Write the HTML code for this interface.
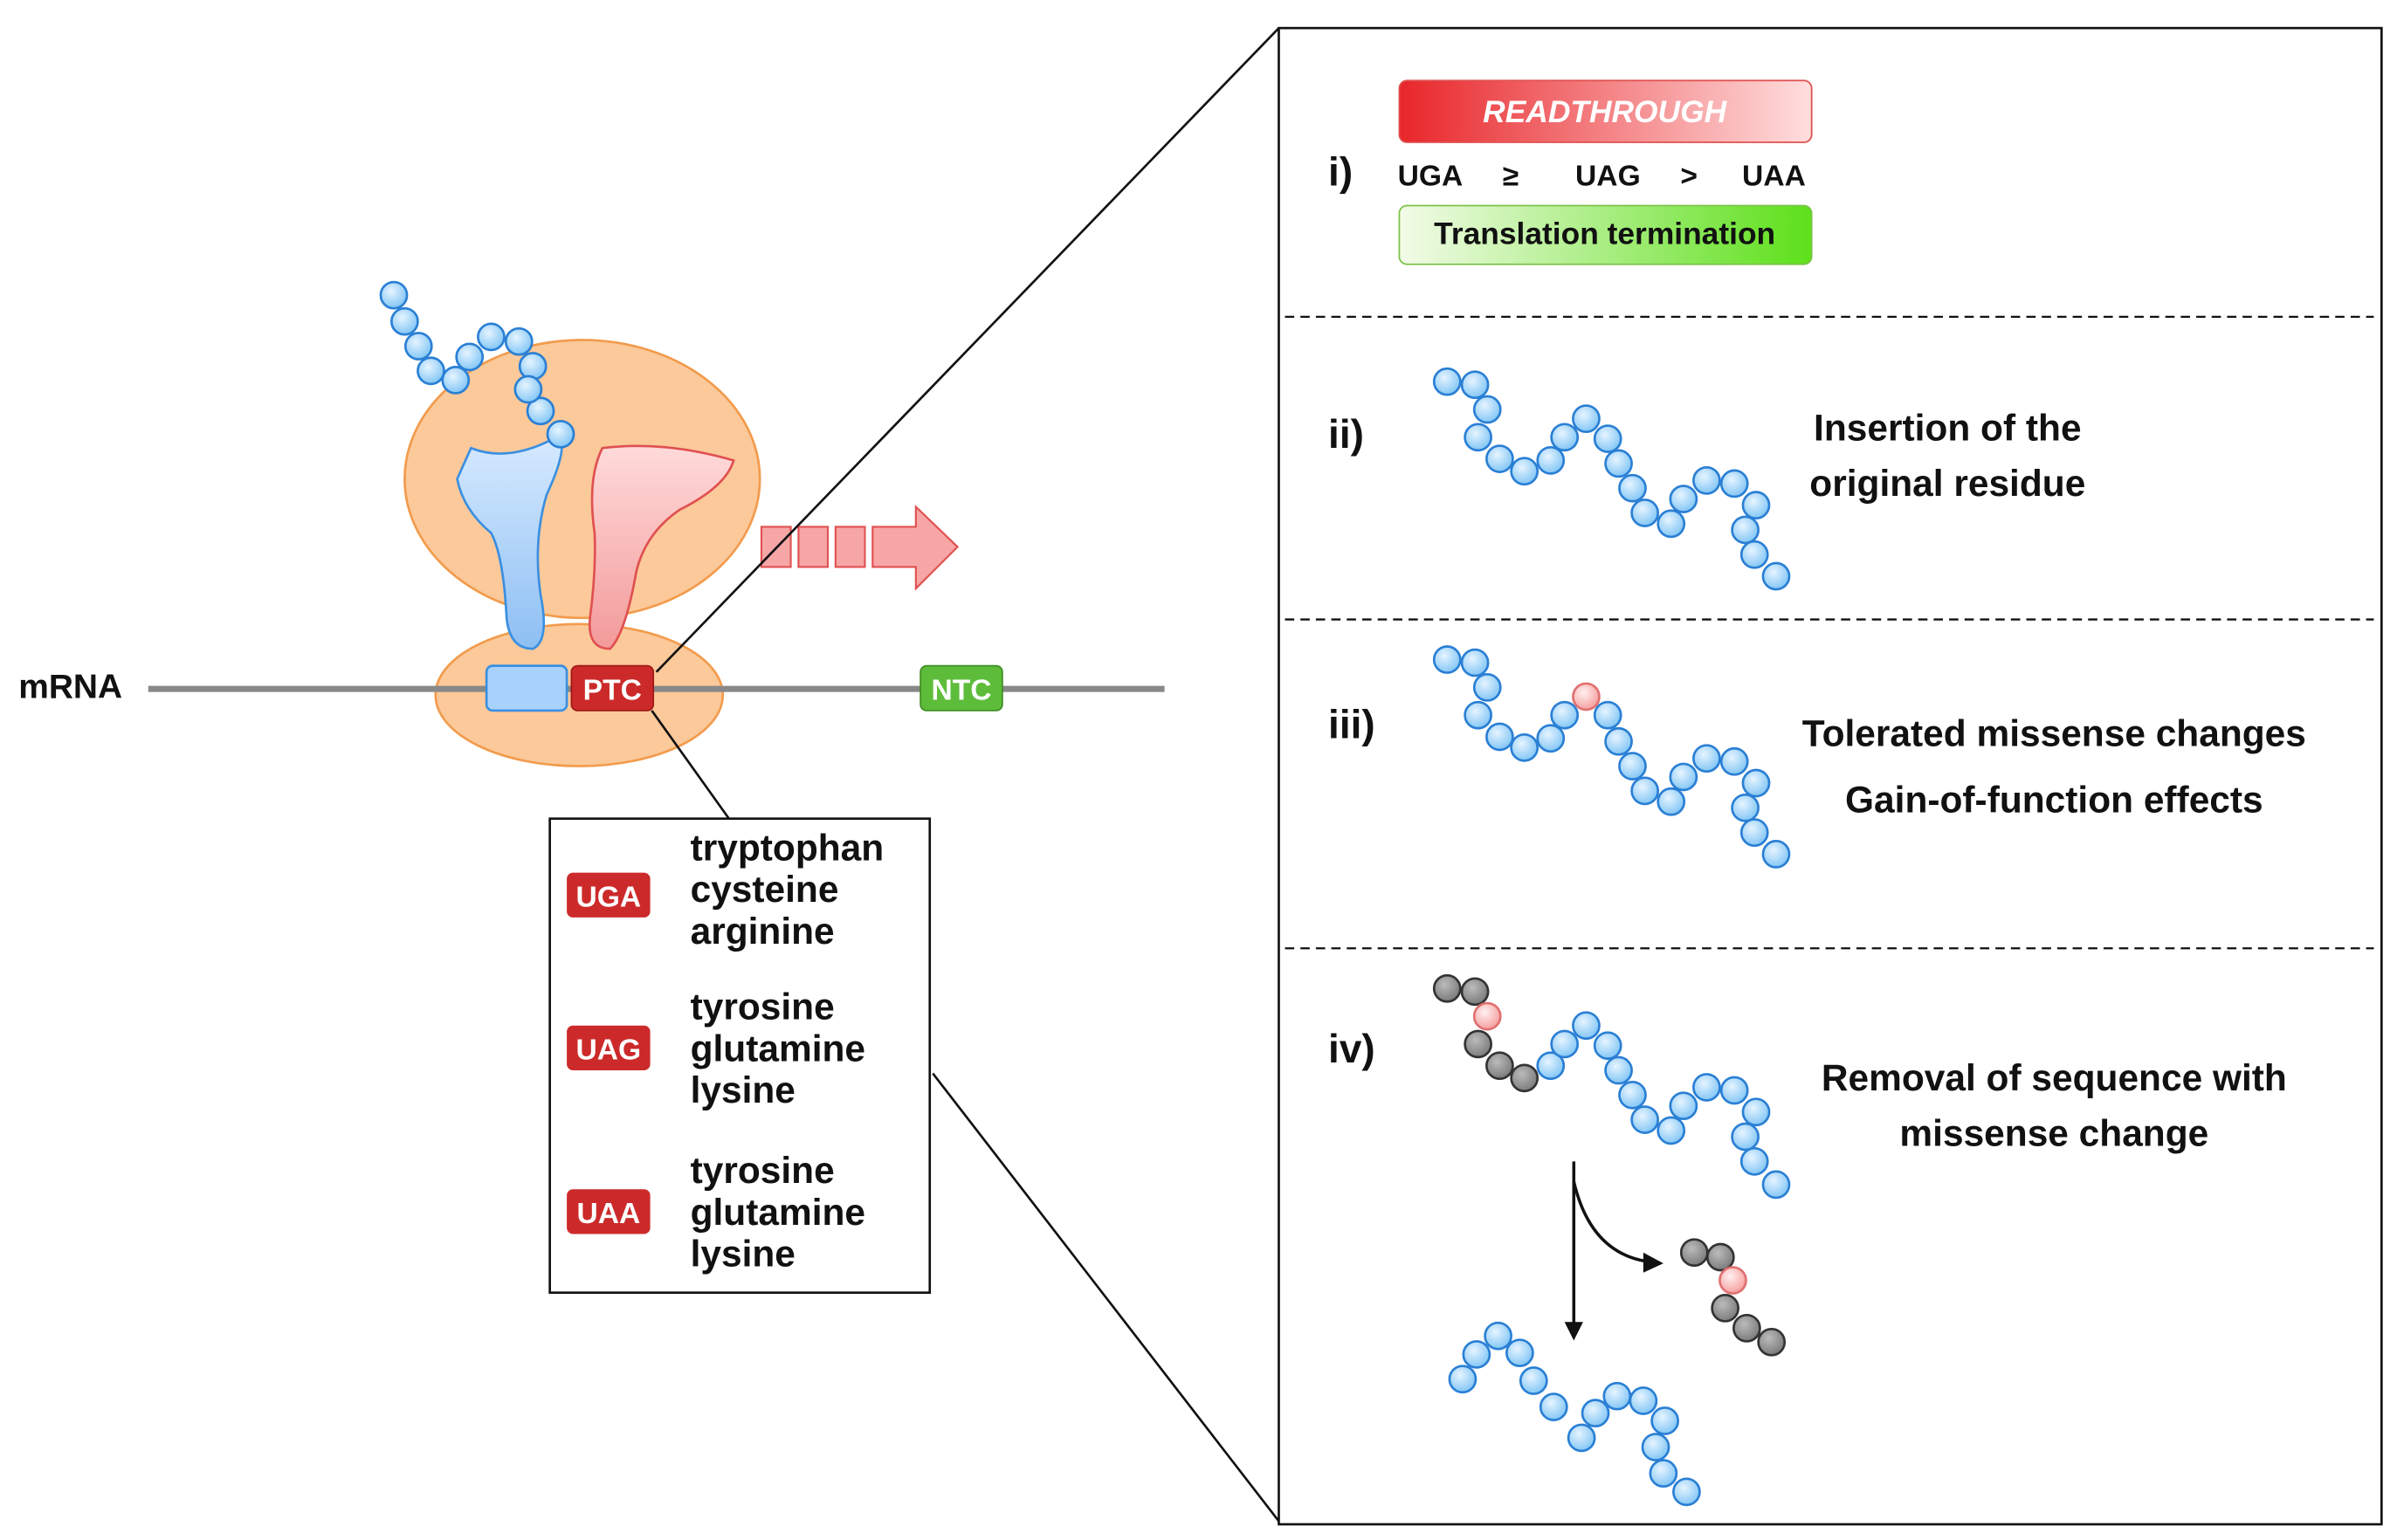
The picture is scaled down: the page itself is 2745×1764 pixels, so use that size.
<!DOCTYPE html>
<html><head><meta charset="utf-8"><style>
html,body{margin:0;padding:0;background:#fff}
svg{display:block}
text{font-family:"Liberation Sans",sans-serif;font-weight:bold}
</style></head><body>
<svg width="2745" height="1764" viewBox="0 0 1552 997" xmlns="http://www.w3.org/2000/svg">
<defs>
<radialGradient id="bb" cx="0.4" cy="0.35" r="0.7"><stop offset="0" stop-color="#e6f4ff"/><stop offset="1" stop-color="#7cc3f5"/></radialGradient>
<radialGradient id="gb" cx="0.4" cy="0.35" r="0.7"><stop offset="0" stop-color="#bbb"/><stop offset="1" stop-color="#777"/></radialGradient>
<radialGradient id="rb" cx="0.4" cy="0.35" r="0.7"><stop offset="0" stop-color="#fff0f0"/><stop offset="1" stop-color="#f59a9a"/></radialGradient>
<linearGradient id="rt" x1="0" x2="1"><stop offset="0" stop-color="#e8262a"/><stop offset="1" stop-color="#ffdede"/></linearGradient>
<linearGradient id="tt" x1="0" x2="1"><stop offset="0" stop-color="#f3fbe8"/><stop offset="1" stop-color="#5de01a"/></linearGradient>
<linearGradient id="tb" x1="0" x2="0" y1="0" y2="1"><stop offset="0" stop-color="#d7eaff"/><stop offset="1" stop-color="#8dbff3"/></linearGradient>
<linearGradient id="tr" x1="0" x2="0" y1="0" y2="1"><stop offset="0" stop-color="#ffdada"/><stop offset="1" stop-color="#f39a9a"/></linearGradient>
</defs>

<!-- ribosome -->
<ellipse cx="377" cy="310" rx="115" ry="90" fill="#fbc99a" stroke="#f29b4c" stroke-width="1.5"/>
<ellipse cx="375" cy="450" rx="93" ry="46" fill="#fbc99a" stroke="#f29b4c" stroke-width="1.5"/>
<!-- tRNAs -->
<path d="M305,290 Q330,300 362,282 Q368,290 354,320 Q345,350 350,385 Q356,415 345,420 Q330,420 328,400 Q326,360 318,345 Q300,330 296,310 Z" fill="url(#tb)" stroke="#3a8fe0" stroke-width="1.5"/>
<path d="M390,290 Q430,285 475,298 Q470,315 440,330 Q418,345 412,370 Q405,410 395,420 Q380,420 382,400 Q386,370 385,345 Q380,310 390,290 Z" fill="url(#tr)" stroke="#e05050" stroke-width="1.5"/>
<!-- mRNA -->
<line x1="96" y1="446" x2="754" y2="446" stroke="#888" stroke-width="4"/>
<text x="12" y="452" font-size="22" fill="#111">mRNA</text>
<rect x="315" y="431" width="52" height="29" rx="4" fill="#a8d2fb" stroke="#3a8fe0" stroke-width="1.5"/>
<rect x="370" y="431" width="53" height="29" rx="4" fill="#cc2a2a" stroke="#a01818"/>
<text x="396.5" y="453" font-size="19" fill="#fff" text-anchor="middle">PTC</text>
<rect x="596" y="431" width="53" height="29" rx="4" fill="#5dbd3a" stroke="#3e8f25"/>
<text x="622.5" y="453" font-size="19" fill="#fff" text-anchor="middle">NTC</text>
<!-- arrow -->
<g fill="#f7a6a6" stroke="#e05050" stroke-width="1.2">
<rect x="493" y="341" width="19" height="26"/><rect x="517" y="341" width="19" height="26"/><rect x="541" y="341" width="19" height="26"/>
<path d="M565,341 L593,341 L593,328 L620,354 L593,381 L593,367 L565,367 Z"/>
</g>
<!-- lines -->
<line x1="425" y1="435" x2="828" y2="18" stroke="#111" stroke-width="1.5"/>
<line x1="604" y1="695" x2="828" y2="985" stroke="#111" stroke-width="1.5"/>
<line x1="422" y1="460" x2="472" y2="530" stroke="#111" stroke-width="1.5"/>
<!-- codon box -->
<rect x="356" y="530" width="246" height="307" fill="#fff" stroke="#111" stroke-width="1.5"/>
<g font-size="19" fill="#fff" text-anchor="middle">
<rect x="367" y="565" width="54" height="29" rx="4" fill="#cc2a2a"/><text x="394" y="587">UGA</text>
<rect x="367" y="664" width="54" height="29" rx="4" fill="#cc2a2a"/><text x="394" y="686">UAG</text>
<rect x="367" y="770" width="54" height="29" rx="4" fill="#cc2a2a"/><text x="394" y="792">UAA</text>
</g>
<g font-size="24" fill="#111">
<text x="447" y="557">tryptophan</text><text x="447" y="584">cysteine</text><text x="447" y="611">arginine</text>
<text x="447" y="660">tyrosine</text><text x="447" y="687">glutamine</text><text x="447" y="714">lysine</text>
<text x="447" y="766">tyrosine</text><text x="447" y="793">glutamine</text><text x="447" y="820">lysine</text>
</g>
<!-- right panel -->
<rect x="828" y="18" width="714" height="969" fill="none" stroke="#111" stroke-width="1.5"/>
<g stroke="#111" stroke-width="1.3" stroke-dasharray="6,4">
<line x1="832" y1="205" x2="1537" y2="205"/><line x1="832" y1="401" x2="1537" y2="401"/><line x1="832" y1="614" x2="1537" y2="614"/>
</g>
<g font-size="26" fill="#111">
<text x="860" y="120">i)</text><text x="860" y="290">ii)</text><text x="860" y="478">iii)</text><text x="860" y="688">iv)</text>
</g>
<rect x="906" y="52" width="267" height="40" rx="5" fill="url(#rt)" stroke="#e05050"/>
<text x="1039" y="79" font-size="20" fill="#fff" font-style="italic" text-anchor="middle">READTHROUGH</text>
<g font-size="19" fill="#111">
<text x="905" y="120">UGA</text><text x="973" y="120">≥</text><text x="1020" y="120">UAG</text><text x="1088" y="120">&gt;</text><text x="1128" y="120">UAA</text>
</g>
<rect x="906" y="133" width="267" height="38" rx="5" fill="url(#tt)" stroke="#7cc24a"/>
<text x="1039" y="158" font-size="20" fill="#111" text-anchor="middle">Translation termination</text>
<g font-size="24" fill="#111" text-anchor="middle">
<text x="1261" y="285">Insertion of the</text><text x="1261" y="321">original residue</text>
<text x="1330" y="483">Tolerated missense changes</text><text x="1330" y="526">Gain-of-function effects</text>
<text x="1330" y="706">Removal of sequence with</text><text x="1330" y="742">missense change</text>
</g>
<!-- arrows in iv -->
<line x1="1019" y1="752" x2="1019" y2="858" stroke="#111" stroke-width="2"/>
<path d="M1013,856 L1019,868 L1025,856 Z" fill="#111"/>
<path d="M1019,765 Q1030,812 1068,817" fill="none" stroke="#111" stroke-width="2"/>
<path d="M1064,811 L1077,818 L1064,824 Z" fill="#111"/>
<!-- beads -->
<g stroke="#2a7fd4" stroke-width="1.5" fill="url(#bb)">
<circle cx="255" cy="191" r="8.5"/><circle cx="262" cy="208" r="8.5"/><circle cx="271" cy="224" r="8.5"/><circle cx="279" cy="240" r="8.5"/><circle cx="295" cy="246" r="8.5"/><circle cx="304" cy="231" r="8.5"/><circle cx="318" cy="218" r="8.5"/><circle cx="336" cy="221" r="8.5"/><circle cx="345" cy="237" r="8.5"/><circle cx="350" cy="266" r="8.5"/><circle cx="363" cy="281" r="8.5"/><circle cx="342" cy="252" r="8.5"/>
<circle cx="937" cy="247" r="8.5"/><circle cx="955" cy="249" r="8.5"/><circle cx="963" cy="265" r="8.5"/><circle cx="957" cy="283" r="8.5"/><circle cx="971" cy="297" r="8.5"/><circle cx="987" cy="305" r="8.5"/><circle cx="1004" cy="298" r="8.5"/><circle cx="1013" cy="283" r="8.5"/><circle cx="1027" cy="271" r="8.5"/><circle cx="1041" cy="284" r="8.5"/><circle cx="1048" cy="300" r="8.5"/><circle cx="1057" cy="316" r="8.5"/><circle cx="1065" cy="332" r="8.5"/><circle cx="1082" cy="339" r="8.5"/><circle cx="1090" cy="323" r="8.5"/><circle cx="1105" cy="311" r="8.5"/><circle cx="1123" cy="313" r="8.5"/><circle cx="1137" cy="327" r="8.5"/><circle cx="1130" cy="343" r="8.5"/><circle cx="1136" cy="359" r="8.5"/><circle cx="1150" cy="373" r="8.5"/>
<circle cx="937" cy="427" r="8.5"/><circle cx="955" cy="429" r="8.5"/><circle cx="963" cy="445" r="8.5"/><circle cx="957" cy="463" r="8.5"/><circle cx="971" cy="477" r="8.5"/><circle cx="987" cy="484" r="8.5"/><circle cx="1004" cy="478" r="8.5"/><circle cx="1013" cy="463" r="8.5"/><circle cx="1041" cy="463" r="8.5"/><circle cx="1048" cy="480" r="8.5"/><circle cx="1057" cy="496" r="8.5"/><circle cx="1065" cy="512" r="8.5"/><circle cx="1082" cy="519" r="8.5"/><circle cx="1090" cy="503" r="8.5"/><circle cx="1105" cy="491" r="8.5"/><circle cx="1123" cy="493" r="8.5"/><circle cx="1137" cy="507" r="8.5"/><circle cx="1130" cy="523" r="8.5"/><circle cx="1136" cy="539" r="8.5"/><circle cx="1150" cy="553" r="8.5"/>
<circle cx="1004" cy="690" r="8.5"/><circle cx="1013" cy="676" r="8.5"/><circle cx="1027" cy="664" r="8.5"/><circle cx="1041" cy="677" r="8.5"/><circle cx="1048" cy="693" r="8.5"/><circle cx="1057" cy="709" r="8.5"/><circle cx="1065" cy="725" r="8.5"/><circle cx="1082" cy="732" r="8.5"/><circle cx="1090" cy="716" r="8.5"/><circle cx="1105" cy="704" r="8.5"/><circle cx="1123" cy="706" r="8.5"/><circle cx="1137" cy="720" r="8.5"/><circle cx="1130" cy="736" r="8.5"/><circle cx="1136" cy="752" r="8.5"/><circle cx="1150" cy="767" r="8.5"/>
<circle cx="947" cy="893" r="8.5"/><circle cx="956" cy="877" r="8.5"/><circle cx="970" cy="865" r="8.5"/><circle cx="984" cy="876" r="8.5"/><circle cx="993" cy="894" r="8.5"/><circle cx="1006" cy="911" r="8.5"/><circle cx="1024" cy="931" r="8.5"/><circle cx="1033" cy="915" r="8.5"/><circle cx="1047" cy="904" r="8.5"/><circle cx="1064" cy="907" r="8.5"/><circle cx="1078" cy="920" r="8.5"/><circle cx="1072" cy="937" r="8.5"/><circle cx="1077" cy="954" r="8.5"/><circle cx="1092" cy="966" r="8.5"/>
</g>
<g stroke="#333" stroke-width="1.5" fill="url(#gb)">
<circle cx="937" cy="640" r="8.5"/><circle cx="955" cy="642" r="8.5"/><circle cx="957" cy="676" r="8.5"/><circle cx="971" cy="690" r="8.5"/><circle cx="987" cy="698" r="8.5"/>
<circle cx="1097" cy="811" r="8.5"/><circle cx="1114" cy="814" r="8.5"/><circle cx="1117" cy="847" r="8.5"/><circle cx="1131" cy="860" r="8.5"/><circle cx="1147" cy="869" r="8.5"/>
</g>
<g stroke="#e07070" stroke-width="1.5" fill="url(#rb)">
<circle cx="1027" cy="451" r="8.5"/><circle cx="963" cy="658" r="8.5"/><circle cx="1122" cy="829" r="8.5"/>
</g>
</svg>
</body></html>
